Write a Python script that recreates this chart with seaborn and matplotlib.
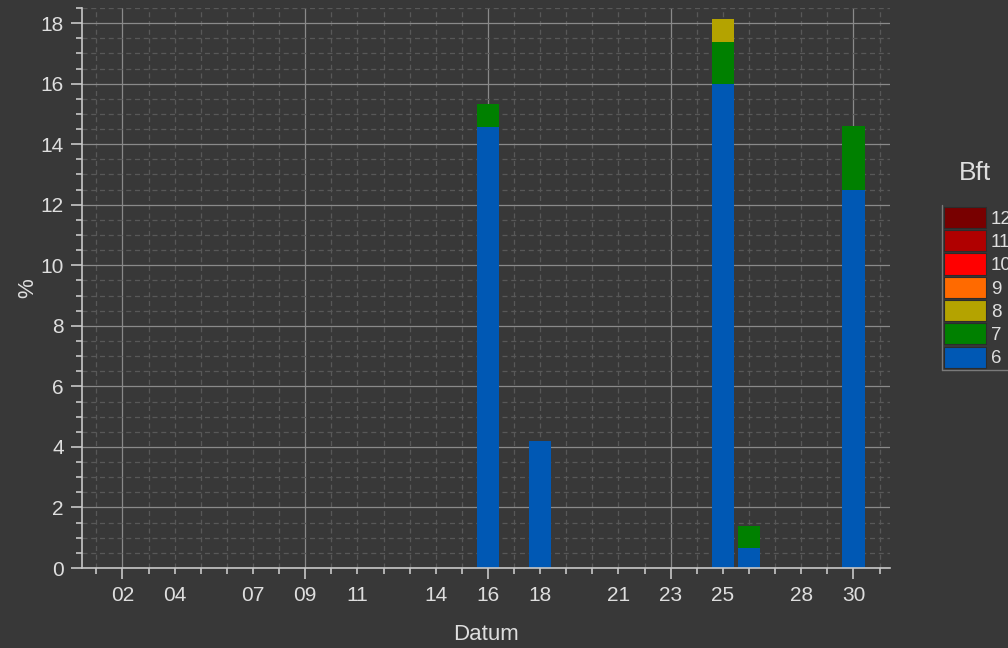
import pandas as pd
import numpy as np
import matplotlib
matplotlib.use('Agg')
import matplotlib.pyplot as plt
import matplotlib.patches as mpatches
from matplotlib.lines import Line2D
from matplotlib.ticker import FixedLocator, MultipleLocator, FixedFormatter, FuncFormatter
import seaborn as sns

# data (percent per day, stacked by Beaufort class)
days = [16, 18, 25, 26, 30]
bft6 = [14.56, 4.2, 16.0, 0.66, 12.48]
bft7 = [0.76, 0.0, 1.38, 0.73, 2.12]
bft8 = [0.0, 0.0, 0.75, 0.0, 0.0]

bft_levels = ['12', '11', '10', '9', '8', '7', '6']
bft_colors = ['#780000', '#b00000', '#ff0000', '#ff6a00', '#b4a300', '#008000', '#0058b4']

major_days = [2, 9, 16, 23, 30]
minor_label_days = [4, 7, 11, 14, 18, 21, 25, 28]

bg = '#383838'
fg = '#dedede'

rows = []
for lvl, vals in [('6', bft6), ('7', bft7), ('8', bft8)]:
    for d, v in zip(days, vals):
        rows.append({'Datum': d, 'Bft': lvl, 'pct': v})
df = pd.DataFrame(rows)

sns.set_style('dark')
plt.rcParams['font.family'] = ['Liberation Sans', 'DejaVu Sans']

fig = plt.figure(figsize=(10.08, 6.48), dpi=100, facecolor=bg)
ax = fig.add_axes([82 / 1008, 1 - 568 / 648, (890 - 82) / 1008, (568 - 8) / 648])
ax.set_facecolor(bg)

palette = dict(zip(bft_levels, bft_colors))
order = ['6', '7', '8']
sns.histplot(data=df, x='Datum', weights='pct', hue='Bft', hue_order=order[::-1],
             multiple='stack', discrete=True, shrink=0.85, palette=palette,
             alpha=1, linewidth=0, legend=False, ax=ax)

ax.set_xlim(0.45, 31.4)
ax.set_ylim(0, 18.5)

ax.xaxis.set_major_locator(FixedLocator(major_days))
ax.xaxis.set_major_formatter(FixedFormatter([f'{d:02d}' for d in major_days]))
ax.xaxis.set_minor_locator(FixedLocator(list(range(1, 32))))
ax.xaxis.set_minor_formatter(FuncFormatter(
    lambda v, p: f'{int(round(v)):02d}' if int(round(v)) in minor_label_days else ''))
ax.yaxis.set_major_locator(MultipleLocator(2))
ax.yaxis.set_minor_locator(MultipleLocator(0.5))

ax.grid(which='major', color='#8a8a8a', linestyle='-', linewidth=0.9)
ax.grid(which='minor', color='#585858', linestyle=(0, (4, 3)), linewidth=0.9)
ax.set_axisbelow(True)

for s in ['top', 'right']:
    ax.spines[s].set_visible(False)
for s in ['left', 'bottom']:
    ax.spines[s].set_visible(True)
    ax.spines[s].set_color('#c8c8c8')
    ax.spines[s].set_linewidth(1.2)

ax.tick_params(which='major', length=8, width=1.2, color='#c8c8c8', labelcolor=fg,
               labelsize=15, pad=5, bottom=True, left=True)
ax.tick_params(which='minor', length=4, width=1.2, color='#c8c8c8', labelcolor=fg,
               labelsize=15, pad=9, bottom=True, left=True)

ax.set_xlabel('Datum', color=fg, fontsize=16, labelpad=14)
ax.set_ylabel('%', color=fg, fontsize=16, labelpad=2)

# legend: swatches, frame drawn only on the left and bottom
handles = [mpatches.Patch(facecolor=c, edgecolor='#2c2c2c', linewidth=0.8, label=l)
           for l, c in zip(bft_levels, bft_colors)]
leg = fig.legend(handles=handles, loc='upper left', bbox_to_anchor=(942 / 1008, 1 - 205 / 648),
                 frameon=False, fontsize=13.5,
                 handlelength=2.25, handleheight=1.35, labelspacing=0.12,
                 handletextpad=0.25, borderpad=0.1, borderaxespad=0)
for t in leg.get_texts():
    t.set_color(fg)
fig.add_artist(Line2D([942 / 1008, 942 / 1008], [1 - 205 / 648, 1 - 370 / 648],
                      transform=fig.transFigure, color='#7a7a7a', linewidth=1))
fig.add_artist(Line2D([942 / 1008, 1.0], [1 - 370 / 648, 1 - 370 / 648],
                      transform=fig.transFigure, color='#7a7a7a', linewidth=1))
fig.text(975 / 1008, 1 - 173 / 648, 'Bft', color=fg, fontsize=19, ha='center', va='center')

fig.savefig('out.png', dpi=100, facecolor=bg)
